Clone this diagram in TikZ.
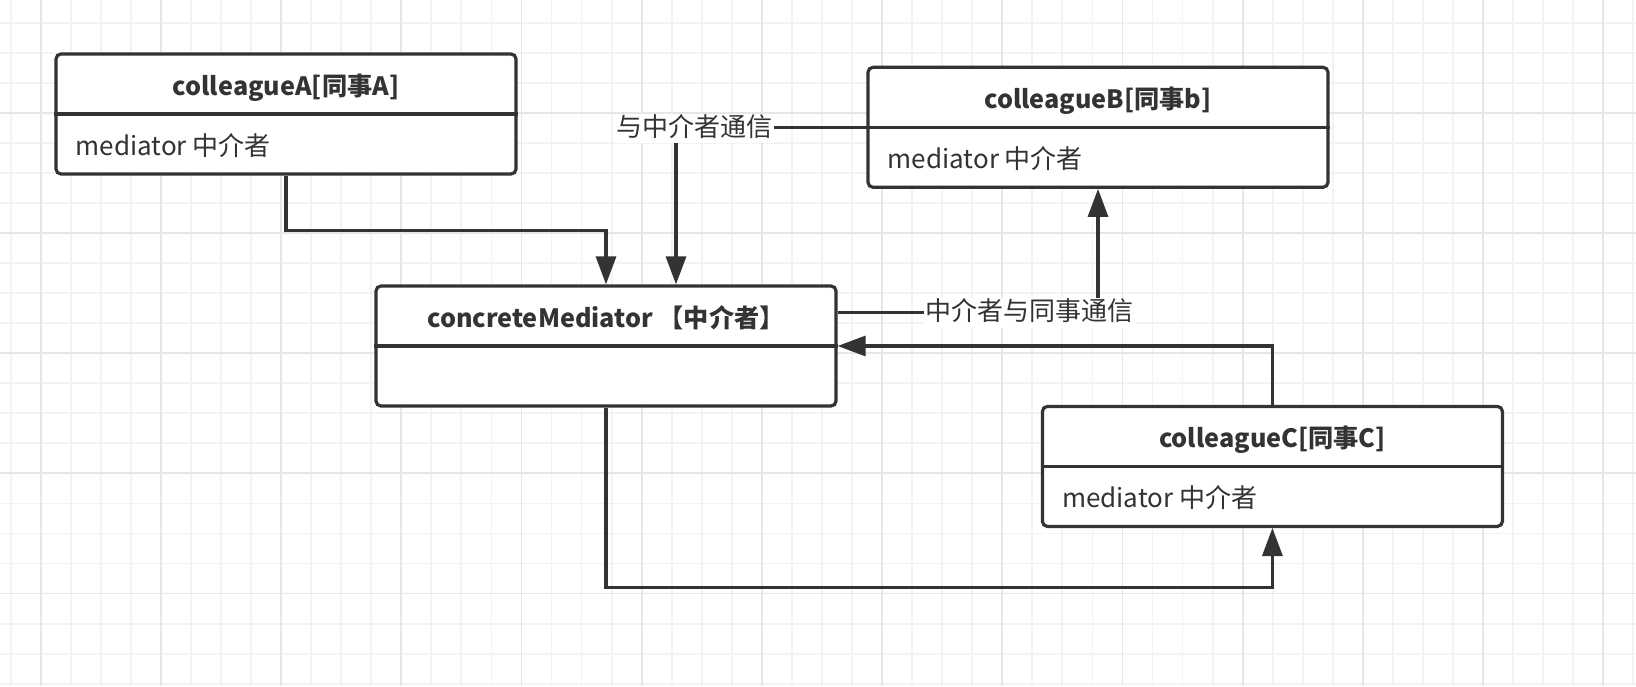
\documentclass[tikz,border=0pt]{standalone}
\usepackage{fontspec}
\setmainfont{Noto Sans CJK SC}
\usetikzlibrary{arrows.meta,calc}
\definecolor{ink}{HTML}{333333}
\definecolor{gridminor}{HTML}{F3F3F3}
\definecolor{gridmajor}{HTML}{E6E6E6}
\begin{document}
\begin{tikzpicture}[x=0.5pt,y=-0.5pt,
  umlbox/.style={draw=ink,line width=1.6pt,rounded corners=2.5pt,fill=white,
    minimum width=230pt,minimum height=60pt,inner sep=0pt},
  divider/.style={draw=ink,line width=1.6pt},
  titletext/.style={anchor=base,inner sep=0pt,text=ink,font=\fontsize{12.6pt}{14pt}\selectfont\bfseries},
  attrtext/.style={anchor=base west,inner sep=0pt,text=ink,font=\fontsize{13pt}{14pt}\selectfont},
  conn/.style={draw=ink,line width=1.55pt,-{Triangle[length=14pt,width=10pt]}},
  lbl/.style={fill=white,inner xsep=1pt,inner ysep=0pt,text=ink,
    font=\fontsize{13pt}{14pt}\selectfont,text height=11.2pt,text depth=3.5pt},
]
\useasboundingbox (0,0) rectangle (1636,686);
\fill[white] (0,0) rectangle (1636,686);
% grid
\foreach \k in {0,...,54}{\draw[gridminor,line width=0.9pt] ({10.6+30.05*\k},0) -- ({10.6+30.05*\k},686);}
\foreach \k in {0,...,22}{\draw[gridminor,line width=0.9pt] (0,{22.6+30.05*\k}) -- (1636,{22.6+30.05*\k});}
\foreach \k in {0,...,13}{\draw[gridmajor,line width=0.9pt] ({40.65+120.2*\k},0) -- ({40.65+120.2*\k},686);}
\foreach \k in {0,...,4}{\draw[gridmajor,line width=0.9pt] (0,{112.75+120.2*\k}) -- (1636,{112.75+120.2*\k});}

% boxes
\node[umlbox] (A) at (286,114) {};
\node[umlbox] (B) at (1098,127.3) {};
\node[umlbox] (M) at (606,346) {};
\node[umlbox] (C) at (1272.4,466.4) {};
\foreach \b in {A,B,M,C}{\draw[divider] (\b.west) -- (\b.east);}

\node[titletext] (At) at ($(A.center)+(0,-18.5)$) {colleagueA[同事A]};
\node[attrtext] (Aa) at ($(A.west)+(21,41)$) {mediator 中介者};
\node[titletext] (Bt) at ($(B.center)+(0,-18.5)$) {colleagueB[同事b]};
\node[attrtext] (Ba) at ($(B.west)+(21,41)$) {mediator 中介者};
\node[titletext] (Mt) at ($(M.center)+(0,-18.5)$) {concreteMediator 【中介者】};
\node[titletext] (Ct) at ($(C.center)+(0,-18.5)$) {colleagueC[同事C]};
\node[attrtext] (Ca) at ($(C.west)+(21,41)$) {mediator 中介者};

% connectors
\draw[conn] (A.south) -- ++(0,55) -| (M.north);
\draw[conn] (B.west) -| ([xshift=35pt]M.north);
\node[lbl] (L1) at (694,128.5) {与中介者通信};
\draw[conn] ([yshift=16.75pt]M.east) -| (B.south);
\node[lbl] (L2) at (1029.5,313) {中介者与同事通信};
\draw[conn] (C.north) |- (M.east);
\draw[conn] (M.south) -- ++(0,180) -| (C.south);
\end{tikzpicture}
\end{document}
